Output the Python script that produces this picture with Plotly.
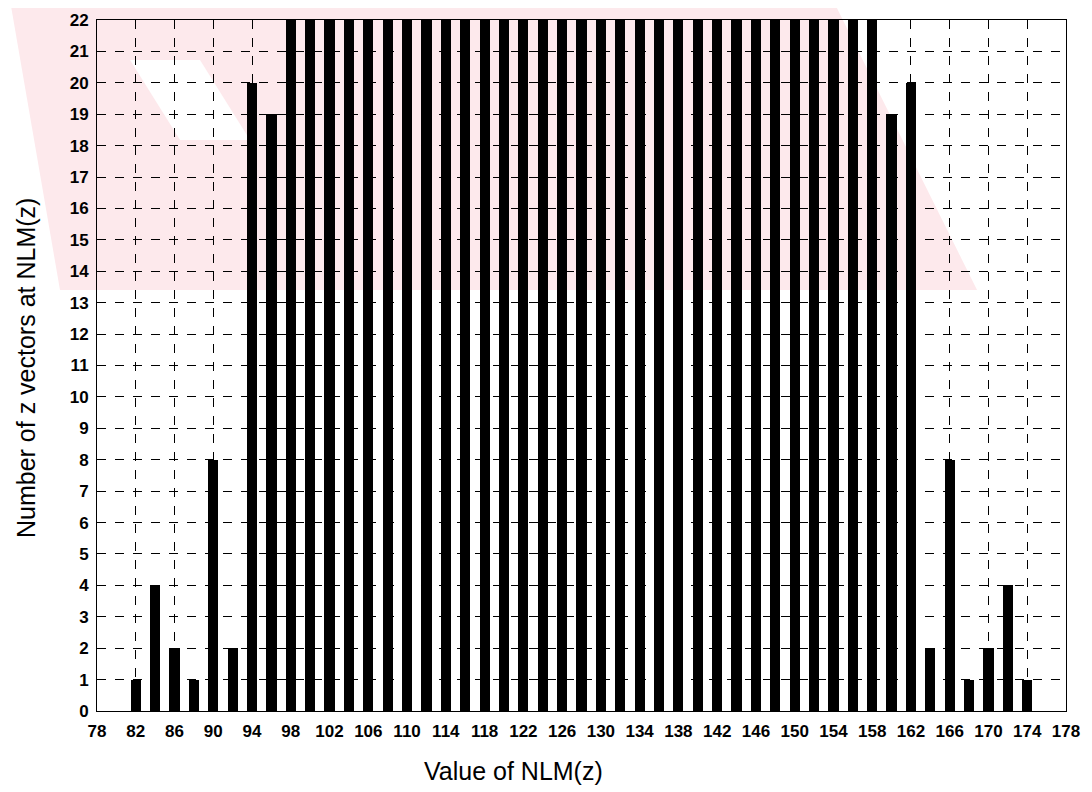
import plotly.graph_objects as go

# Data
nlm_values = list(range(82, 176, 2))
counts = [1, 4, 2, 1, 8, 2, 20, 19] + [22] * 31 + [19, 20, 2, 8, 1, 2, 4, 1]
x_ticks = list(range(78, 179, 4))
y_ticks = list(range(0, 23))

# the page body has an 8px margin; work in page pixels and shift
OFF = 8
W, H = 1092 - OFF, 792 - OFF
L, R, T, B = 97, 1066, 20, 711   # plot area in page pixels
def px(x):
    return (x - L) / (R - L)
def py(y):
    return (B - y) / (B - T)

fig = go.Figure()
fig.add_trace(go.Bar(x=nlm_values, y=counts, width=1.05,
                     marker=dict(color="black", line=dict(width=0))))

pink = "#fde9ec"
wm = [(10, 0), (833, 0), (977, 290), (60, 290)]
path = "M " + " L ".join(f"{px(a):.4f},{py(b):.4f}" for a, b in wm) + " Z"
shapes = [dict(type="path", xref="paper", yref="paper", path=path,
               fillcolor=pink, line=dict(width=0), layer="below")]
stripes = [
    [(130, 60), (200, 60), (250, 140), (180, 140)],
]
for s in stripes:
    p = "M " + " L ".join(f"{px(a):.4f},{py(b):.4f}" for a, b in s) + " Z"
    shapes.append(dict(type="path", xref="paper", yref="paper", path=p,
                       fillcolor="white", line=dict(width=0), layer="below"))

fig.update_layout(
    width=W, height=H,
    margin=dict(l=L - OFF, r=W - (R - OFF), t=T - OFF, b=H - (B - OFF)),
    paper_bgcolor="white", plot_bgcolor="rgba(0,0,0,0)",
    showlegend=False, bargap=0,
    font=dict(family="Liberation Sans, Arial", color="black"),
    shapes=shapes,
    annotations=[
        dict(text="Value of NLM(z)", xref="paper", yref="paper",
             x=px(513), y=py(771), xanchor="center", yanchor="middle",
             showarrow=False,
             font=dict(size=25, family="Liberation Sans, Arial", color="black")),
        dict(text="Number of z vectors at NLM(z)", xref="paper", yref="paper",
             x=px(26), y=py(368), xanchor="center", yanchor="middle",
             showarrow=False, textangle=-90,
             font=dict(size=25, family="Liberation Sans, Arial", color="black")),
    ],
)
fig.update_xaxes(range=[78, 178], tickvals=x_ticks,
                 ticktext=[f"<b>{v}</b>" for v in x_ticks],
                 tickfont=dict(size=17), showgrid=True, gridcolor="black",
                 gridwidth=1, griddash="dash", showline=True, linecolor="black",
                 linewidth=1, mirror=True, ticks="", zeroline=False,
                 automargin=False, ticklabelstandoff=5)
fig.update_yaxes(range=[0, 22], tickvals=y_ticks,
                 ticktext=[f"<b>{v}</b>" for v in y_ticks],
                 tickfont=dict(size=17), showgrid=True, gridcolor="black",
                 gridwidth=1, griddash="dash", showline=True, linecolor="black",
                 linewidth=1, mirror=True, ticks="", zeroline=False,
                 automargin=False, ticklabelstandoff=4)

fig.write_html("out.html")
